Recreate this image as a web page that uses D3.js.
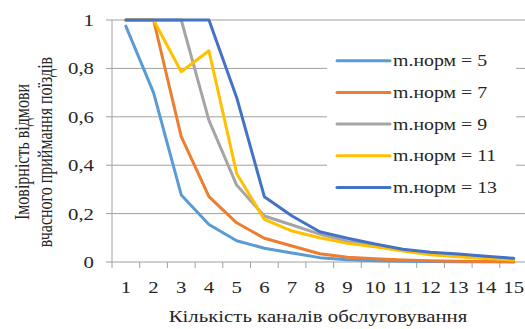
<!DOCTYPE html>
<html><head><meta charset="utf-8">
<script src="https://cdn.jsdelivr.net/npm/d3@7"></script>
<style>body{margin:0;background:#fff}svg{display:block}text{font-family:"Liberation Serif","Times New Roman",serif;fill:#262626}</style>
</head><body>
<svg id="c" width="525" height="329"></svg>
<script>
const categories = [1,2,3,4,5,6,7,8,9,10,11,12,13,14,15];
const seriesNames = ["m.норм = 5","m.норм = 7","m.норм = 9","m.норм = 11","m.норм = 13"];
const m5  = [0.975,0.70,0.277,0.155,0.088,0.057,0.037,0.018,0.009,0.005,0.003,0.002,0.001,0.001,0.0005];
const m7  = [1,1,0.518,0.27,0.162,0.098,0.066,0.034,0.02,0.013,0.008,0.005,0.003,0.002,0.001];
const m9  = [1,1,1,0.585,0.318,0.19,0.153,0.115,0.085,0.068,0.048,0.034,0.026,0.017,0.01];
const m11 = [1,1,0.786,0.873,0.366,0.176,0.128,0.1,0.077,0.063,0.045,0.03,0.022,0.014,0.008];
const m13 = [1,1,1,1,0.68,0.27,0.19,0.125,0.098,0.074,0.053,0.04,0.033,0.024,0.015];
const yTicks = [0,0.2,0.4,0.6,0.8,1];
const yTickLabels = ["0","0,2","0,4","0,6","0,8","1"];
const colors = ["#5B9BD5","#ED7D31","#A5A5A5","#FFC000","#4472C4"];
const series = [m5,m7,m9,m11,m13];

const SX = 1.3; // horizontal stretch of the original image
const svg = d3.select("#c");
const L = 112, R = 527.5, T = 20, B = 262;
const x = d3.scaleBand().domain(categories).range([L,R]);
const y = d3.scaleLinear().domain([0,1]).range([B,T]);
const grid = "#a0a0a0";

function stext(g, tx, ty, str, anchor, sx){
  return g.append("text").attr("transform",`translate(${tx},${ty}) scale(${sx||SX},1)`)
    .attr("text-anchor",anchor).attr("font-size",16).text(str);
}

// gridlines
svg.append("g").selectAll("line").data(yTicks.filter(d=>d>0)).join("line")
  .attr("x1",L).attr("x2",R).attr("y1",d=>y(d)).attr("y2",d=>y(d))
  .attr("stroke",grid).attr("stroke-width",1);

// y axis
const ya = svg.append("g");
ya.append("line").attr("x1",L).attr("x2",L).attr("y1",T).attr("y2",B).attr("stroke",grid);
ya.selectAll("line.t").data(yTicks).join("line").attr("class","t")
  .attr("x1",L-6).attr("x2",L).attr("y1",d=>y(d)).attr("y2",d=>y(d)).attr("stroke",grid);
yTicks.forEach((d,i)=>stext(ya,94,y(d)+6,yTickLabels[i],"end"));

// x axis
const xa = svg.append("g");
xa.append("line").attr("x1",L).attr("x2",R).attr("y1",B).attr("y2",B).attr("stroke",grid);
const bounds = categories.map(c=>x(c)).concat([R]);
xa.selectAll("line.t").data(bounds).join("line").attr("class","t")
  .attr("x1",d=>d).attr("x2",d=>d).attr("y1",B).attr("y2",B+6).attr("stroke",grid);
categories.forEach(c=>stext(xa,x(c)+x.bandwidth()/2,293,String(c),"middle"));

// lines
const line = d3.line().x((d,i)=>x(categories[i])+x.bandwidth()/2).y(d=>y(d));
series.forEach((s,k)=>{
  svg.append("path").datum(s).attr("d",line).attr("fill","none")
    .attr("stroke",colors[k]).attr("stroke-width",3).attr("stroke-linejoin","round").attr("stroke-linecap","round");
});

// legend
const lg = svg.append("g");
lg.append("rect").attr("x",327).attr("y",44).attr("width",189).attr("height",160).attr("fill","#fff");
seriesNames.forEach((n,k)=>{
  const ly = 60.7 + k*31.7;
  lg.append("line").attr("x1",337).attr("x2",390).attr("y1",ly).attr("y2",ly)
    .attr("stroke",colors[k]).attr("stroke-width",3).attr("stroke-linecap","round");
  stext(lg,393,ly+5.5,n,"start",1.24);
});

// axis titles
stext(svg,318,322,"Кількість каналів обслуговування","middle");
svg.append("text").attr("transform",`translate(22,152) scale(${SX},1) rotate(-90)`)
  .attr("text-anchor","middle").attr("dominant-baseline","central").attr("font-size",16).text("Імовірність відмови");
svg.append("text").attr("transform",`translate(45,152) scale(${SX},1) rotate(-90)`)
  .attr("text-anchor","middle").attr("dominant-baseline","central").attr("font-size",16).text("вчасного приймання поїздів");
</script>
</body></html>
